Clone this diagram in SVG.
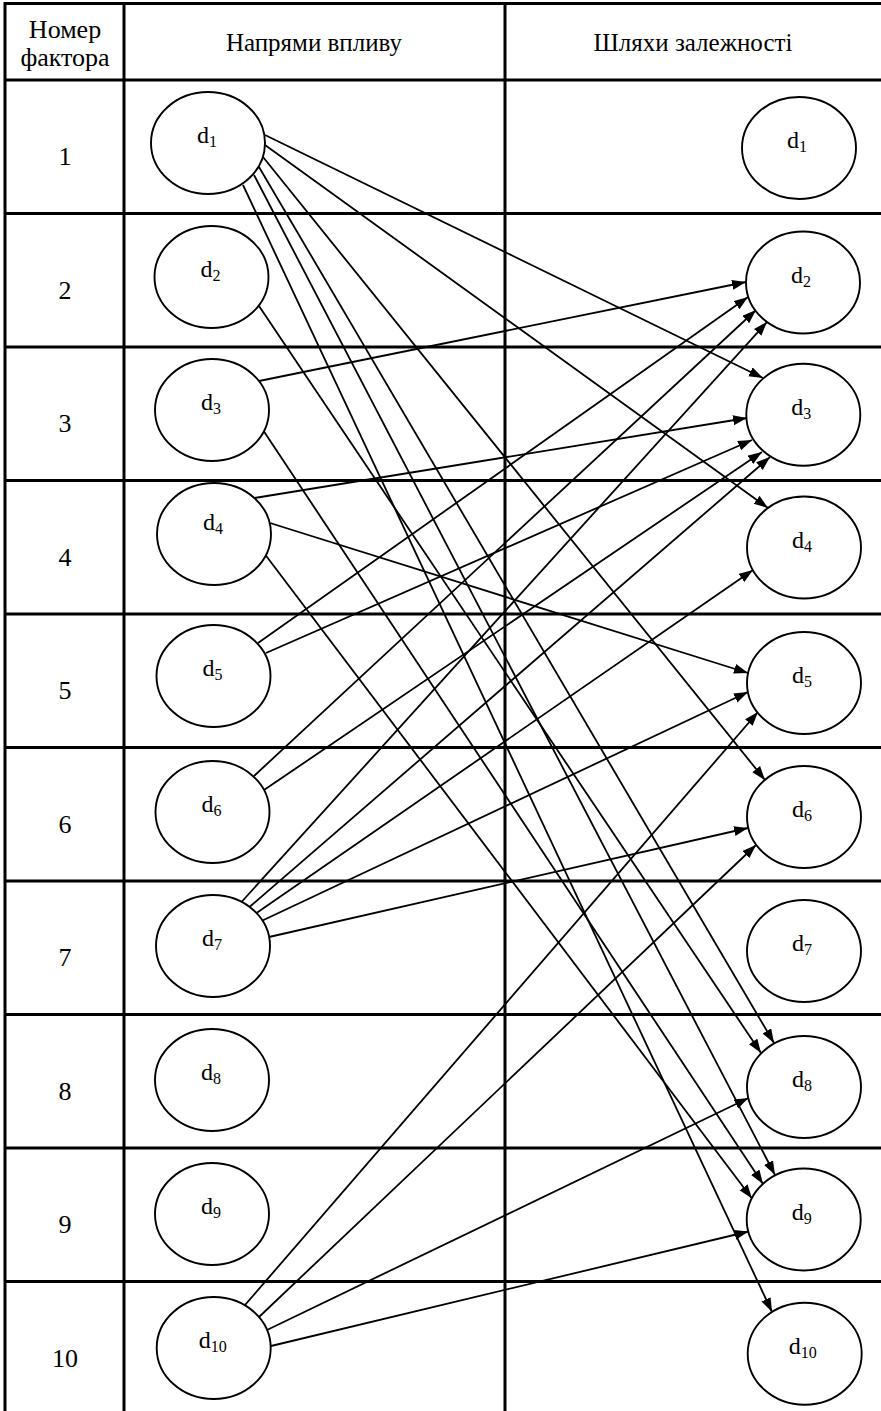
<svg xmlns="http://www.w3.org/2000/svg" width="881" height="1411" viewBox="0 0 881 1411">
<style>
.bg{fill:#fff}
.grid{stroke:#000;stroke-width:3;fill:none}
.nd{fill:#fff;stroke:#000;stroke-width:1.9}
.t{font-family:"Liberation Serif","Times New Roman",serif;font-size:26px;fill:#000;text-anchor:middle}
.h{font-size:25px}
.l{font-size:24px}
.sub{font-size:16px}
.cn line{stroke:#000;stroke-width:1.8;marker-end:url(#ah)}
</style>
<defs>
<marker id="ah" markerUnits="userSpaceOnUse" markerWidth="15" markerHeight="11" refX="14" refY="5" orient="auto">
<path d="M0,0 L14,5 L0,10 z" fill="#000"/>
</marker>
</defs>
<rect class="bg" x="0" y="0" width="881" height="1411"/>
<g id="table">
<path class="grid" d="M5,3.5 H881 M5,80 H881 M5,213.5 H881 M5,347 H881 M5,480.5 H881 M5,614 H881 M5,747.5 H881 M5,881 H881 M5,1014.5 H881 M5,1148 H881 M5,1281.5 H881 M5,2 V1411 M124,2 V1411 M505,2 V1411"/>
<text class="t" x="65" y="38">Номер</text>
<text class="t" x="65" y="66">фактора</text>
<text class="t h" x="314" y="51">Напрями впливу</text>
<text class="t h" x="693" y="51">Шляхи залежності</text>
<text class="t" x="65" y="165">1</text>
<text class="t" x="65" y="298.5">2</text>
<text class="t" x="65" y="432">3</text>
<text class="t" x="65" y="565.5">4</text>
<text class="t" x="65" y="699">5</text>
<text class="t" x="65" y="832.5">6</text>
<text class="t" x="65" y="966">7</text>
<text class="t" x="65" y="1099.5">8</text>
<text class="t" x="65" y="1233">9</text>
<text class="t" x="65" y="1366.5">10</text>
</g>
<g id="connectors" class="cn">
<line x1="265" y1="135" x2="763" y2="378"/>
<line x1="265" y1="145" x2="768" y2="508"/>
<line x1="263" y1="157" x2="765" y2="780"/>
<line x1="259" y1="167" x2="774" y2="1043"/>
<line x1="254" y1="175" x2="775" y2="1175"/>
<line x1="243" y1="185" x2="772" y2="1312"/>
<line x1="259" y1="306" x2="761" y2="1053"/>
<line x1="259" y1="381" x2="746" y2="282"/>
<line x1="264" y1="431.5" x2="763" y2="1184"/>
<line x1="254.5" y1="498" x2="747" y2="418"/>
<line x1="270" y1="523" x2="748" y2="673"/>
<line x1="265.5" y1="555" x2="752" y2="1198.5"/>
<line x1="258" y1="643" x2="748" y2="297"/>
<line x1="266" y1="653" x2="752" y2="440"/>
<line x1="254" y1="776" x2="756" y2="310"/>
<line x1="264" y1="790" x2="762" y2="452"/>
<line x1="241.5" y1="902" x2="767" y2="322"/>
<line x1="249.5" y1="907" x2="770" y2="457"/>
<line x1="256.5" y1="913" x2="753" y2="570"/>
<line x1="262.5" y1="920.5" x2="748" y2="692"/>
<line x1="269" y1="937" x2="748" y2="828"/>
<line x1="245" y1="1305" x2="758" y2="712"/>
<line x1="259" y1="1317" x2="756" y2="845"/>
<line x1="267" y1="1330" x2="748.5" y2="1098"/>
<line x1="271" y1="1346" x2="748.5" y2="1231.5"/>
</g>
<g id="src-d1"><ellipse class="nd" cx="208" cy="143" rx="57" ry="51"/><text class="t l" x="207" y="143">d<tspan class="sub" dy="4">1</tspan></text></g>
<g id="src-d2"><ellipse class="nd" cx="211.5" cy="277" rx="57" ry="51"/><text class="t l" x="210.5" y="277">d<tspan class="sub" dy="4">2</tspan></text></g>
<g id="src-d3"><ellipse class="nd" cx="212" cy="410" rx="57" ry="51"/><text class="t l" x="211" y="410">d<tspan class="sub" dy="4">3</tspan></text></g>
<g id="src-d4"><ellipse class="nd" cx="214" cy="534" rx="57" ry="51"/><text class="t l" x="213" y="530">d<tspan class="sub" dy="4">4</tspan></text></g>
<g id="src-d5"><ellipse class="nd" cx="213.5" cy="676" rx="57" ry="51"/><text class="t l" x="212.5" y="676">d<tspan class="sub" dy="4">5</tspan></text></g>
<g id="src-d6"><ellipse class="nd" cx="212.5" cy="812" rx="57" ry="51"/><text class="t l" x="211.5" y="812">d<tspan class="sub" dy="4">6</tspan></text></g>
<g id="src-d7"><ellipse class="nd" cx="213" cy="946" rx="57" ry="51"/><text class="t l" x="212" y="946">d<tspan class="sub" dy="4">7</tspan></text></g>
<g id="src-d8"><ellipse class="nd" cx="212" cy="1080" rx="57" ry="51"/><text class="t l" x="211" y="1080">d<tspan class="sub" dy="4">8</tspan></text></g>
<g id="src-d9"><ellipse class="nd" cx="212" cy="1214" rx="57" ry="51"/><text class="t l" x="211" y="1214">d<tspan class="sub" dy="4">9</tspan></text></g>
<g id="src-d10"><ellipse class="nd" cx="213.7" cy="1348" rx="57" ry="51"/><text class="t l" x="212.7" y="1348">d<tspan class="sub" dy="4">10</tspan></text></g>
<g id="dst-d1"><ellipse class="nd" cx="799" cy="148" rx="57" ry="51"/><text class="t l" x="797" y="148">d<tspan class="sub" dy="4">1</tspan></text></g>
<g id="dst-d2"><ellipse class="nd" cx="803" cy="282.5" rx="57" ry="51"/><text class="t l" x="801" y="282.5">d<tspan class="sub" dy="4">2</tspan></text></g>
<g id="dst-d3"><ellipse class="nd" cx="803.3" cy="414.7" rx="57" ry="51"/><text class="t l" x="801.3" y="414.7">d<tspan class="sub" dy="4">3</tspan></text></g>
<g id="dst-d4"><ellipse class="nd" cx="804" cy="547.5" rx="57" ry="51"/><text class="t l" x="802" y="547.5">d<tspan class="sub" dy="4">4</tspan></text></g>
<g id="dst-d5"><ellipse class="nd" cx="804" cy="683" rx="57" ry="51"/><text class="t l" x="802" y="683">d<tspan class="sub" dy="4">5</tspan></text></g>
<g id="dst-d6"><ellipse class="nd" cx="804" cy="817" rx="57" ry="51"/><text class="t l" x="802" y="817">d<tspan class="sub" dy="4">6</tspan></text></g>
<g id="dst-d7"><ellipse class="nd" cx="804" cy="951" rx="57" ry="51"/><text class="t l" x="802" y="951">d<tspan class="sub" dy="4">7</tspan></text></g>
<g id="dst-d8"><ellipse class="nd" cx="804" cy="1087" rx="57" ry="51"/><text class="t l" x="802" y="1087">d<tspan class="sub" dy="4">8</tspan></text></g>
<g id="dst-d9"><ellipse class="nd" cx="803.7" cy="1219.5" rx="57" ry="51"/><text class="t l" x="801.7" y="1219.5">d<tspan class="sub" dy="4">9</tspan></text></g>
<g id="dst-d10"><ellipse class="nd" cx="804.7" cy="1353.7" rx="57" ry="51"/><text class="t l" x="802.7" y="1353.7">d<tspan class="sub" dy="4">10</tspan></text></g>
</svg>
